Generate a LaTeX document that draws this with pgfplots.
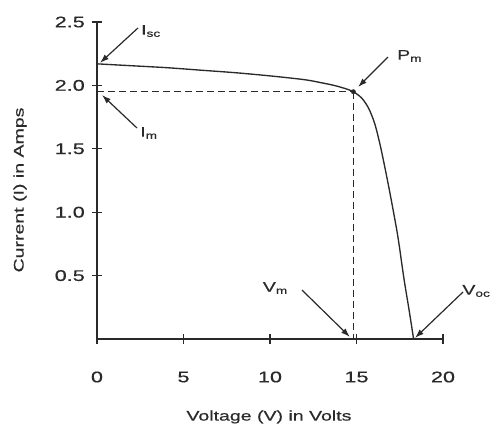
\documentclass[border=0pt]{standalone}
\usepackage{pgfplots}
\pgfplotsset{compat=1.18}
\usepackage{fontspec}
\setmainfont[FakeStretch=1.4, FakeBold=0.6]{Liberation Sans}
\usetikzlibrary{arrows.meta}
\definecolor{ink}{HTML}{2A2A2A}

\begin{document}
\begin{tikzpicture}
\useasboundingbox (-97bp,-90bp) rectangle (395bp,339bp);
\begin{axis}[
    scale only axis,
    width=346bp, height=317bp,
    xmin=0, xmax=20, ymin=0, ymax=2.5,
    axis lines=left,
    axis line style={-, ink, line width=1.25pt},
    xtick={0,5,10,15,20},
    ytick={0.5,1.0,1.5,2.0,2.5},
    tick align=center,
    major tick length=10bp,
    tick style={ink, line width=1.1pt},
    /pgf/number format/assume math mode=true,
    ticklabel style={font=\fontsize{15.5}{17}\selectfont, text=ink},
    xticklabel style={anchor=center, yshift=-33bp},
    yticklabel style={anchor=east, inner sep=0pt, xshift=-7bp,
        /pgf/number format/fixed, /pgf/number format/fixed zerofill,
        /pgf/number format/precision=1},
    clip=false,
]
% I-V curve
\addplot[ink, line width=1.35pt, smooth, tension=0.5] coordinates {
    (0,2.17) (2,2.155) (4,2.14) (6,2.12) (8,2.10) (10,2.075) (12,2.045)
    (13,2.02) (13.7,2.0) (14.3,1.977) (14.82,1.95) (15.3,1.9) (15.7,1.82)
    (16.05,1.70) (16.35,1.54) (16.6,1.38) (16.85,1.21) (17.1,1.03) (17.4,0.80)
    (17.75,0.47) (18.05,0.22) (18.3,0)
};
% dashed guides to the maximum power point
\addplot[ink, line width=1.1pt, dash pattern=on 7bp off 4bp] coordinates {(0,1.95) (14.82,1.95)};
\addplot[ink, line width=1.1pt, dash pattern=on 7bp off 4bp] coordinates {(14.82,1.95) (14.82,0)};
\addplot[ink, only marks, mark=*, mark size=2.2bp] coordinates {(14.82,1.95)};

% annotations
\tikzset{ann/.style={ink, line width=1.2pt, -{Latex[length=9bp,width=6bp]}},
         lab/.style={text=ink, font=\fontsize{14}{16}\selectfont, inner sep=0pt}}
\draw[ann] (axis cs:2.37,2.453) -- (axis cs:0.17,2.177);
\node[lab, anchor=west] at (axis cs:2.54,2.429) {I\textsubscript{sc}};
\draw[ann] (axis cs:2.31,1.664) -- (axis cs:0.29,1.924);
\node[lab, anchor=west] at (axis cs:2.49,1.625) {I\textsubscript{m}};
\draw[ann] (axis cs:16.82,2.224) -- (axis cs:15.09,1.987);
\node[lab, anchor=west] at (axis cs:17.34,2.232) {P\textsubscript{m}};
\draw[ann] (axis cs:11.85,0.386) -- (axis cs:14.62,0.016);
\node[lab, anchor=east] at (axis cs:11.04,0.402) {V\textsubscript{m}};
\draw[ann] (axis cs:21.16,0.371) -- (axis cs:18.38,0.008);
\node[lab, anchor=east] at (axis cs:22.75,0.379) {V\textsubscript{oc}};

% axis titles
\node[lab, rotate=90] at (axis cs:-4.45,1.175) {Current (I) in Amps};
\node[lab] at (axis cs:9.94,-0.615) {Voltage (V) in Volts};
\end{axis}
\end{tikzpicture}
\end{document}
